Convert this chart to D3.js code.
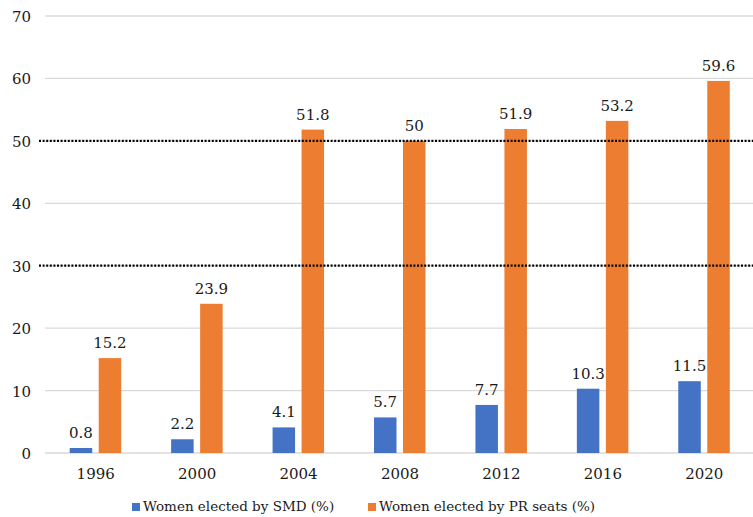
<!DOCTYPE html>
<html>
<head>
<meta charset="utf-8">
<script src="https://cdn.jsdelivr.net/npm/d3@7"></script>
<style>
  body { margin: 0; background: #fff; }
</style>
</head>
<body>
<div class="canvas"></div>
<script>
const years = ['1996', '2000', '2004', '2008', '2012', '2016', '2020'];
const smd = [0.8, 2.2, 4.1, 5.7, 7.7, 10.3, 11.5];
const pr = [15.2, 23.9, 51.8, 50, 51.9, 53.2, 59.6];
const yTicks = [0, 10, 20, 30, 40, 50, 60, 70];
const refLines = [30, 50];
const seriesNames = ['Women elected by SMD (%)', 'Women elected by PR seats (%)'];
const colors = ['#4472C4', '#ED7D31'];

const dims = { width: 753, height: 517 };
const plot = { left: 45, right: 755, top: 16, bottom: 453 };

const svg = d3.select('.canvas')
  .append('svg')
    .attr('width', dims.width)
    .attr('height', dims.height)
    .style('font-family', '"DejaVu Serif", serif')
    .style('fill', '#1a1a1a')

const x = d3.scaleBand()
  .domain(years)
  .range([plot.left, plot.right])

const y = d3.scaleLinear()
  .domain([0, 70])
  .range([plot.bottom, plot.top])

// gridlines
svg.append('g').selectAll('line')
  .data(yTicks)
  .enter().append('line')
    .attr('x1', plot.left)
    .attr('x2', dims.width)
    .attr('y1', d => y(d))
    .attr('y2', d => y(d))
    .attr('stroke', '#d9d9d9')
    .attr('stroke-width', 1.3)

// y tick labels
svg.append('g').selectAll('text')
  .data(yTicks)
  .enter().append('text')
    .attr('x', 31)
    .attr('y', d => y(d) + 6)
    .attr('text-anchor', 'end')
    .attr('font-size', 15)
    .text(d => d)

const barW = 22.5;
const series = [smd, pr];
const offsets = [-26, 3];

series.forEach((vals, s) => {
  const g = svg.append('g');
  g.selectAll('rect')
    .data(vals)
    .enter().append('rect')
      .attr('x', (d, i) => x(years[i]) + x.bandwidth() / 2 + offsets[s])
      .attr('y', d => y(d))
      .attr('width', barW)
      .attr('height', d => y(0) - y(d))
      .attr('fill', colors[s])
  g.selectAll('text')
    .data(vals)
    .enter().append('text')
      .attr('x', (d, i) => x(years[i]) + x.bandwidth() / 2 + offsets[s] + barW / 2)
      .attr('y', d => y(d) - 10)
      .attr('text-anchor', 'middle')
      .attr('font-size', 15)
      .text(d => d)
})

// dotted reference lines
svg.append('g').selectAll('line')
  .data(refLines)
  .enter().append('line')
    .attr('x1', 39)
    .attr('x2', dims.width)
    .attr('y1', d => y(d))
    .attr('y2', d => y(d))
    .attr('stroke', '#000')
    .attr('stroke-width', 2.2)
    .attr('stroke-dasharray', '2,1.6')

// x labels
svg.append('g').selectAll('text')
  .data(years)
  .enter().append('text')
    .attr('x', d => x(d) + x.bandwidth() / 2)
    .attr('y', 479)
    .attr('text-anchor', 'middle')
    .attr('font-size', 15)
    .text(d => d)

// legend
const legendX = [132, 368];
const legend = svg.append('g')
legend.selectAll('rect')
  .data(seriesNames)
  .enter().append('rect')
    .attr('x', (d, i) => legendX[i])
    .attr('y', 503)
    .attr('width', 8)
    .attr('height', 8)
    .attr('fill', (d, i) => colors[i])
legend.selectAll('text')
  .data(seriesNames)
  .enter().append('text')
    .attr('x', (d, i) => legendX[i] + 11)
    .attr('y', 511)
    .attr('font-size', 13.5)
    .text(d => d)
</script>
</body>
</html>
